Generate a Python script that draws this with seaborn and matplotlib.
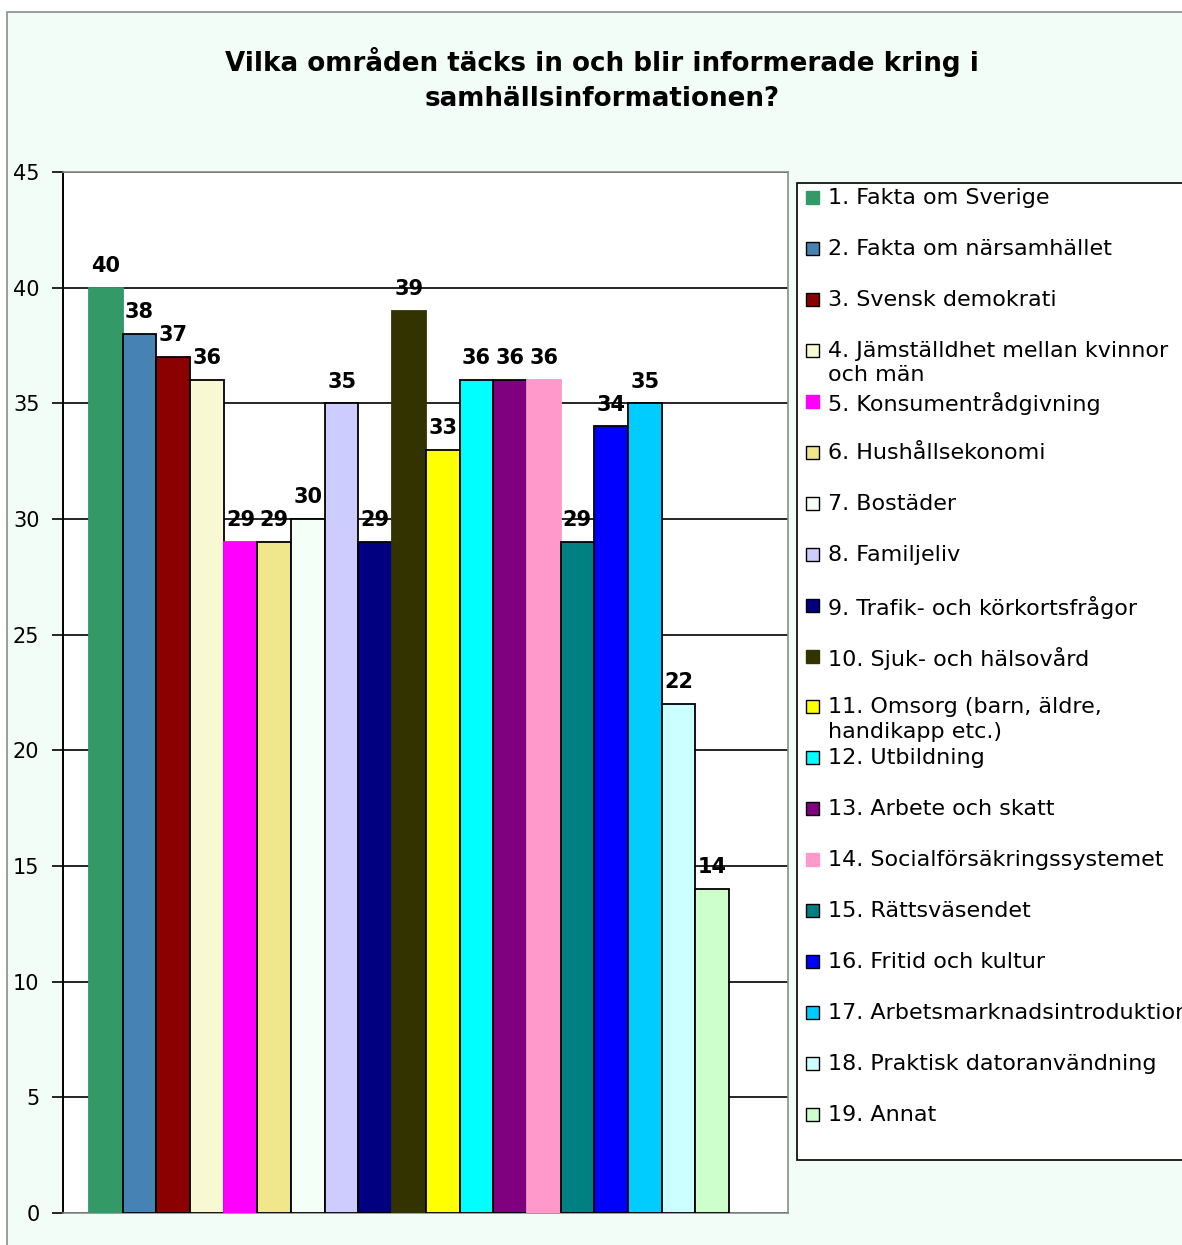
import matplotlib
matplotlib.use("Agg")
import matplotlib.pyplot as plt
import seaborn as sns
import pandas as pd
from matplotlib.patches import Rectangle

categories = [str(i) for i in range(1, 20)]
values = [40, 38, 37, 36, 29, 29, 30, 35, 29, 39, 33, 36, 36, 36, 29, 34, 35, 22, 14]
legend_labels = [
    "1. Fakta om Sverige",
    "2. Fakta om närsamhället",
    "3. Svensk demokrati",
    "4. Jämställdhet mellan kvinnor\noch män",
    "5. Konsumentrådgivning",
    "6. Hushållsekonomi",
    "7. Bostäder",
    "8. Familjeliv",
    "9. Trafik- och körkortsfrågor",
    "10. Sjuk- och hälsovård",
    "11. Omsorg (barn, äldre,\nhandikapp etc.)",
    "12. Utbildning",
    "13. Arbete och skatt",
    "14. Socialförsäkringssystemet",
    "15. Rättsväsendet",
    "16. Fritid och kultur",
    "17. Arbetsmarknadsintroduktion",
    "18. Praktisk datoranvändning",
    "19. Annat",
]
colors = [
    "#339966", "#4682B4", "#8B0000", "#F8F8D2", "#FF00FF", "#F0E68C",
    "#F4FFF8", "#CCCCFF", "#000080", "#333300", "#FFFF00", "#00FFFF",
    "#800080", "#FF99CC", "#008080", "#0000FF", "#00CCFF", "#CCFFFF",
    "#CCFFCC",
]
edged = [False, True, True, True, False, True, True, True, True, False,
         True, True, True, False, True, True, True, True, True]
title = "Vilka områden täcks in och blir informerade kring i\nsamhällsinformationen?"
yticks = list(range(0, 50, 5))

sns.set_style("white")
plt.rcParams["font.family"] = ["DejaVu Sans"]
plt.rcParams["text.color"] = "black"
plt.rcParams["axes.labelcolor"] = "black"
plt.rcParams["ytick.color"] = "black"

W, H = 1182, 1245
fig = plt.figure(figsize=(W / 100, H / 100), dpi=100)
fig.patch.set_facecolor("white")

# outer chart frame
fig.patches.append(Rectangle((7 / W, -0.01), 1.0, 1.01 - 12 / H, transform=fig.transFigure,
                             facecolor="#F3FDF7", edgecolor="#8C8C8C", linewidth=1.2,
                             zorder=-5))

ax = fig.add_axes([63 / W, 1 - 1213 / H, (788 - 63) / W, (1213 - 172) / H])
ax.set_zorder(1)
ax.set_facecolor("white")

df = pd.DataFrame({"cat": categories, "val": values})
sns.barplot(data=df, x="cat", y="val", hue="cat", palette=colors, dodge=False,
            width=1.0, saturation=1, legend=False, ax=ax, zorder=3)

for patch, c, e in zip(ax.patches, colors, edged):
    patch.set_edgecolor("black" if e else c)
    patch.set_linewidth(1.3)

for cont in ax.containers:
    ax.bar_label(cont, fmt="%d", padding=8.5, fontsize=15, fontweight="bold",
                 color="black", zorder=5)

unit = (729 - 89) / 19
ax.set_xlim(-0.5 - (89 - 63) / unit, 18.5 + (788 - 729) / unit)
ax.set_ylim(0, 45)
ax.set_yticks(yticks)
ax.set_yticklabels([str(t) for t in yticks], fontsize=15)
ax.set_xticks([])
ax.set_xlabel("")
ax.set_ylabel("")
ax.yaxis.grid(True, color="black", linewidth=1.2, zorder=1)
ax.set_axisbelow(True)
ax.tick_params(axis="y", direction="out", length=8, width=1.2, pad=9, left=True,
               colors="black", labelcolor="black")
ax.spines["left"].set_color("black")
ax.spines["left"].set_linewidth(1.4)
for s in ("top", "right", "bottom"):
    ax.spines[s].set_color("#8C8C8C")
    ax.spines[s].set_linewidth(1.2)

fig.text(602 / W, 1 - 79 / H, title, ha="center", va="center", fontsize=18.8,
         fontweight="bold", linespacing=1.45, color="black")

# legend box
fig.patches.append(Rectangle((797 / W, 1 - 1160 / H), 1.0, (1160 - 183) / H,
                             transform=fig.transFigure, facecolor="white",
                             edgecolor="black", linewidth=1.2, zorder=2))
pitch = (1114 - 197) / 18
for i, (lab, c, e) in enumerate(zip(legend_labels, colors, edged)):
    yc = 197 + i * pitch
    fig.patches.append(Rectangle((806 / W, 1 - (yc + 7) / H), 13 / W, 13 / H,
                                 transform=fig.transFigure, facecolor=c,
                                 edgecolor="black" if e else c, linewidth=1.0,
                                 zorder=3))
    fig.text(828 / W, 1 - (yc - 9) / H, lab, ha="left", va="top",
             fontsize=16, linespacing=1.28, zorder=4, color="black")

fig.savefig("out.png", dpi=100)
